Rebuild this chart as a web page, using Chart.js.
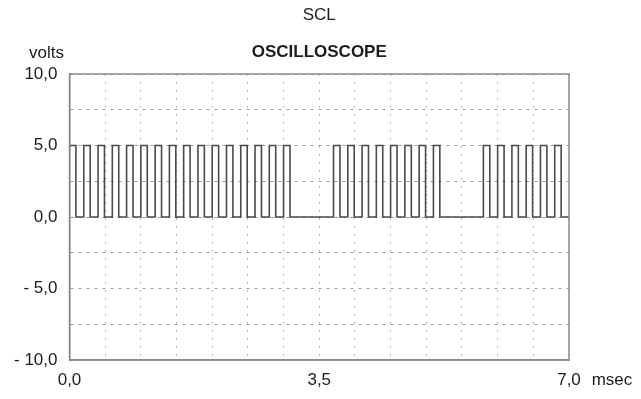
<!DOCTYPE html>
<html>
<head>
<meta charset="utf-8">
<title>SCL</title>
<script src="https://cdn.jsdelivr.net/npm/chart.js@4/dist/chart.umd.min.js"></script>
<style>
  html, body { margin: 0; padding: 0; background: #ffffff; }
  #wrap { width: 641px; height: 399px; position: relative; }
</style>
</head>
<body>
<div id="wrap"><canvas id="scope" width="641" height="399"></canvas></div>
<script>
// SCL clock trace: rising and falling edge times (msec) of each high pulse
const riseTimes = [0.0, 0.2, 0.4, 0.6, 0.8, 1.0, 1.2, 1.4, 1.6, 1.8, 2.0, 2.2, 2.4, 2.6, 2.8, 3.0,
                   3.7, 3.9, 4.1, 4.3, 4.5, 4.7, 4.9, 5.1,
                   5.8, 6.0, 6.2, 6.4, 6.6, 6.8];
const fallTimes = [0.09, 0.29, 0.49, 0.69, 0.89, 1.09, 1.29, 1.49, 1.69, 1.89, 2.09, 2.29, 2.49, 2.69, 2.89, 3.09,
                   3.79, 3.99, 4.19, 4.39, 4.59, 4.79, 4.99, 5.19,
                   5.89, 6.09, 6.29, 6.49, 6.69, 6.89];
// logic levels (volts)
const lowLevel = 0.0;
const highLevel = 5.0;
// sweep window (msec) and vertical range (volts)
const timeRange = [0.0, 7.0];
const voltRange = [-10.0, 10.0];
// labelled ticks
const timeLabels = [0.0, 3.5, 7.0];
const voltLabels = [10.0, 5.0, 0.0, -5.0, -10.0];

const FONT = '"Liberation Sans", Arial, Helvetica, sans-serif';
const INK = '#1c1c1c';

// step trace built from the edge list
const trace = [];
if (riseTimes[0] > timeRange[0]) trace.push({x: timeRange[0], y: lowLevel});
riseTimes.forEach((r, i) => {
  if (r > timeRange[0]) trace.push({x: r, y: lowLevel});
  trace.push({x: r, y: highLevel});
  trace.push({x: fallTimes[i], y: highLevel});
  trace.push({x: fallTimes[i], y: lowLevel});
});
trace.push({x: timeRange[1], y: lowLevel});

const commaNum = v => {
  const s = Math.abs(v).toFixed(1).replace('.', ',');
  return v < 0 ? '- ' + s : s;
};
const isLabelled = (list, v) => list.some(t => Math.abs(t - v) < 1e-6);

// frame around the plot plus the captions
const frameAndCaptions = {
  id: 'frameAndCaptions',
  afterDatasetsDraw(chart) {
    const {ctx, chartArea: a} = chart;
    ctx.save();
    ctx.strokeStyle = '#8a8a8a';
    ctx.lineWidth = 1.5;
    ctx.setLineDash([]);
    ctx.strokeRect(a.left, a.top, a.right - a.left, a.bottom - a.top);
    ctx.restore();
  },
  afterDraw(chart) {
    const {ctx, chartArea: a} = chart;
    const cx = (a.left + a.right) / 2;
    ctx.save();
    ctx.fillStyle = INK;
    ctx.textAlign = 'center';
    ctx.textBaseline = 'middle';
    ctx.font = '17px ' + FONT;
    ctx.fillText('SCL', cx, 15);
    ctx.font = 'bold 17px ' + FONT;
    ctx.fillText('OSCILLOSCOPE', cx, a.top - 22);
    ctx.font = '17px ' + FONT;
    ctx.fillText('volts', a.left - 23, a.top - 21);
    ctx.fillText('msec', a.right + 43, chart.scales.x.bottom - 19);
    ctx.restore();
  }
};

new Chart(document.getElementById('scope'), {
  type: 'line',
  data: {
    datasets: [{
      data: trace,
      borderColor: '#4a4a4a',
      borderWidth: 1.6,
      pointRadius: 0,
      tension: 0,
      fill: false
    }]
  },
  options: {
    responsive: false,
    animation: false,
    events: [],
    layout: { padding: { left: 0, top: 74, right: 72, bottom: 0 } },
    plugins: { legend: { display: false }, tooltip: { enabled: false }, title: { display: false } },
    scales: {
      x: {
        type: 'linear',
        min: timeRange[0],
        max: timeRange[1],
        afterFit: s => { s.height = 39; },
        ticks: {
          stepSize: 0.5,
          autoSkip: false,
          maxRotation: 0,
          padding: 10,
          color: INK,
          font: { family: FONT, size: 17 },
          callback: v => isLabelled(timeLabels, v) ? commaNum(v) : ''
        },
        grid: { color: '#9a9a9a', lineWidth: 1, drawTicks: false },
        border: { display: true, color: '#8a8a8a', width: 1.5, dash: [1.5, 6.5] }
      },
      y: {
        type: 'linear',
        min: voltRange[0],
        max: voltRange[1],
        afterFit: s => { s.width = 69.5; },
        ticks: {
          stepSize: 2.5,
          autoSkip: false,
          padding: 12,
          color: INK,
          font: { family: FONT, size: 17 },
          callback: v => isLabelled(voltLabels, v) ? commaNum(v) : ''
        },
        grid: { color: '#9a9a9a', lineWidth: 1, drawTicks: false },
        border: { display: true, color: '#8a8a8a', width: 1.5, dash: [3, 5] }
      }
    }
  },
  plugins: [frameAndCaptions]
});
</script>
</body>
</html>
